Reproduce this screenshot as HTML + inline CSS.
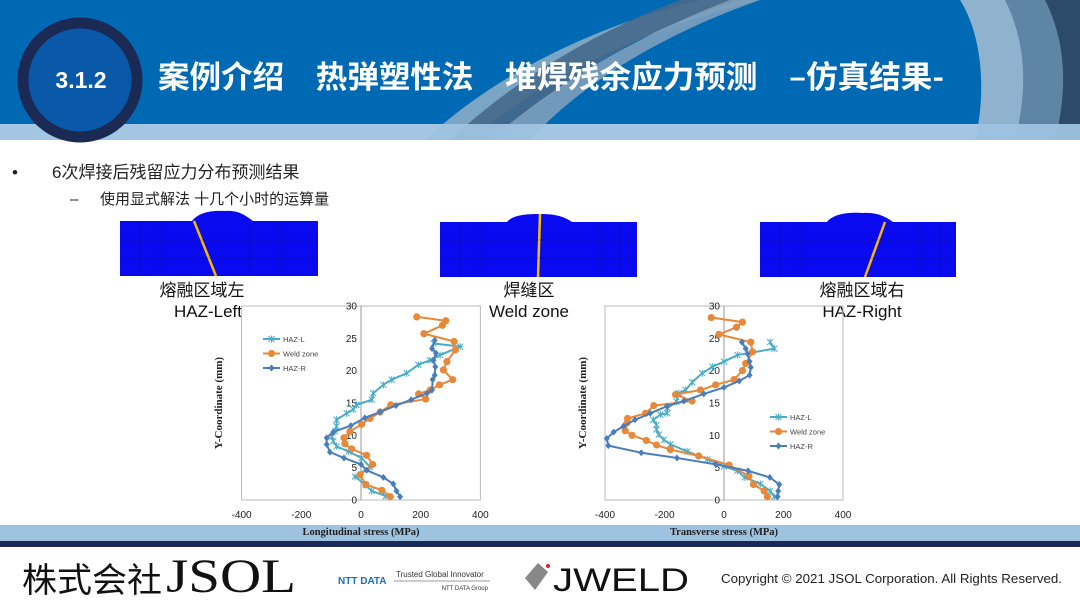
<!DOCTYPE html>
<html><head><meta charset="utf-8">
<style>
body{margin:0;width:1080px;height:608px;overflow:hidden;background:#fff;font-family:"Liberation Sans","Noto Sans CJK SC",sans-serif;}
svg{display:block}
</style></head><body>
<svg id="s" width="1080" height="608" xmlns="http://www.w3.org/2000/svg" font-family="Liberation Sans, Noto Sans CJK SC, sans-serif">
<rect x="0" y="0" width="1080" height="124" fill="#0069b4"/>
<path d="M425,140 C500,70 600,25 700,0 L760,0 C640,30 540,80 470,140Z" fill="#8fb0c8" opacity="0.85"/>
<path d="M450,140 C520,75 600,30 680,0 L740,0 C640,30 560,80 500,140Z" fill="#46698a" opacity="0.9"/>
<path d="M490,140 C560,80 640,35 730,0 L760,0 C660,35 580,85 530,140Z" fill="#7d9fbc" opacity="0.9"/>
<path d="M960,0 C985,40 985,100 975,140 L1080,140 L1080,0Z" fill="#8fb2cf"/>
<path d="M1005,0 C1030,50 1025,100 1015,140 L1080,140 L1080,0Z" fill="#5e84a6"/>
<path d="M1045,0 C1070,50 1065,100 1055,140 L1080,140 L1080,0Z" fill="#2c4a6a"/>
<rect x="0" y="124" width="1080" height="16" fill="#9ec3e1" opacity="0.95"/>
<circle cx="80" cy="80" r="57" fill="#0a58a8" stroke="#1b2a55" stroke-width="11"/>
<text x="81" y="88" fill="#fff" font-size="23" font-weight="bold" text-anchor="middle">3.1.2</text>
<text x="158" y="88" fill="#fff" font-size="31" font-weight="bold" font-family="Noto Sans CJK SC, sans-serif" textLength="786" lengthAdjust="spacingAndGlyphs">案例介绍　热弹塑性法　堆焊残余应力预测　–仿真结果-</text>
<text x="12" y="178" font-size="17" fill="#222">•</text>
<text x="52" y="178" font-size="17" fill="#222">6次焊接后残留应力分布预测结果</text>
<text x="70" y="204" font-size="15" fill="#222">–</text>
<text x="100" y="204" font-size="15" fill="#222">使用显式解法 十几个小时的运算量</text>
<path d="M120,221 L318,221 L318,276 L120,276Z" fill="#0a0af0"/>
<path d="M192,221 C198,213 210,210 225,211 C238,210 245,215 253,221Z" fill="#0a0af0"/>
<path d="M194,221 L216,276" stroke="#f4b800" stroke-width="2.5"/>
<path d="M440,222 L637,222 L637,277 L440,277Z" fill="#0a0af0"/>
<path d="M507,222 C513,215 525,214 540,214 C555,214 563,216 572,222Z" fill="#0a0af0"/>
<path d="M540,214 L538,277" stroke="#f4c000" stroke-width="2.5"/>
<path d="M760,222 L956,222 L956,277 L760,277Z" fill="#0a0af0"/>
<path d="M827,222 C833,214 848,212 862,213 C876,212 885,216 893,222Z" fill="#0a0af0"/>
<path d="M885,222 L865,277" stroke="#f4b800" stroke-width="2.5"/>
<g stroke="#000" stroke-width="0.4" opacity="0.5">
<path d="M140,221V276M160,221V276M250,221V276M280,221V276M120,240H318M120,258H318"/>
<path d="M460,222V277M480,222V277M600,222V277M620,222V277M440,240H637M440,258H637"/>
<path d="M780,222V277M800,222V277M920,222V277M940,222V277M760,240H956M760,258H956"/>
</g>
<g font-size="17" fill="#111" text-anchor="middle">
<text x="202" y="296">熔融区域左</text><text x="208" y="317">HAZ-Left</text>
<text x="529" y="296">焊缝区</text><text x="529" y="317">Weld zone</text>
<text x="862" y="296">熔融区域右</text><text x="862" y="317">HAZ-Right</text>
</g>
<rect x="0" y="525" width="1080" height="16" fill="#9ec3e1"/>
<rect x="0" y="541" width="1080" height="6" fill="#1b2a55"/>
<g id="charts" font-size="10" fill="#222"></g>
<text x="22" y="592" font-size="34" fill="#111" font-family="Noto Sans CJK SC, sans-serif" textLength="140" lengthAdjust="spacingAndGlyphs">株式会社</text>
<text x="166" y="592" font-size="48" fill="#111" font-family="Liberation Serif, serif" textLength="130" lengthAdjust="spacingAndGlyphs">JSOL</text>
<text x="338" y="584" font-size="10" fill="#1a6fc0" font-weight="bold">NTT DATA</text>
<text x="396" y="577" font-size="8" fill="#333">Trusted Global Innovator</text>
<line x1="394" y1="581" x2="490" y2="581" stroke="#333" stroke-width="0.6"/>
<text x="488" y="590" font-size="6" fill="#333" text-anchor="end">NTT DATA Group</text>
<path d="M525,578 L538,563 L548,572 L535,590Z" fill="#888"/>
<circle cx="548" cy="566" r="2" fill="#d22"/>
<text x="553" y="591" font-size="32" fill="#111" textLength="136" lengthAdjust="spacingAndGlyphs">JWELD</text>
<text x="721" y="583" font-size="12.5" fill="#222" textLength="341" lengthAdjust="spacingAndGlyphs">Copyright © 2021  JSOL Corporation. All Rights Reserved.</text>
</svg>
<script>
const g=document.getElementById('charts');let h='';
function chart(x0,s,axisT,series,ytx,legX,legY){
 const X=v=>x0+v*s, Y=y=>500-y*6.47;
 h+=`<rect x="${X(-400)}" y="306" width="${X(400)-X(-400)}" height="194" fill="none" stroke="#bbb" stroke-width="1"/>`;
 h+=`<line x1="${x0}" y1="306" x2="${x0}" y2="500" stroke="#999"/>`;
 for(let t=0;t<=30;t+=5){h+=`<text x="${x0-4}" y="${Y(t)+3.5}" text-anchor="end">${t}</text>`;}
 for(let t=-400;t<=400;t+=200){h+=`<text x="${X(t)}" y="518" text-anchor="middle">${t}</text>`;}
 h+=`<text x="${x0}" y="535" text-anchor="middle" font-family="Liberation Serif, serif" font-weight="bold" font-size="10.5">${axisT}</text>`;
 h+=`<text transform="translate(${ytx},403) rotate(-90)" text-anchor="middle" font-family="Liberation Serif, serif" font-weight="bold" font-size="11">Y-Coordinate (mm)</text>`;
 const cols=['#4bacc6','#e8883a','#4a7ebb'];const names=['HAZ-L','Weld zone','HAZ-R'];
 series.forEach((d,i)=>{
  const pts=[];for(let k=0;k<d.length;k+=2)pts.push([X(d[k]),Y(d[k+1])]);
  h+=`<polyline points="${pts.map(p=>p.join(',')).join(' ')}" fill="none" stroke="${cols[i]}" stroke-width="2"/>`;
  pts.forEach(p=>h+=mk(i,p[0],p[1],cols[i]));
  const ly=legY+i*14.5;
  h+=`<line x1="${legX}" y1="${ly}" x2="${legX+17}" y2="${ly}" stroke="${cols[i]}" stroke-width="2"/>`+mk(i,legX+8.5,ly,cols[i]);
  h+=`<text x="${legX+20}" y="${ly+3}" font-size="7.5" fill="#444">${names[i]}</text>`;
 });
}
function mk(i,x,y,c){
 if(i==0)return `<path d="M${x-3},${y-3}L${x+3},${y+3}M${x-3},${y+3}L${x+3},${y-3}M${x},${y-3.5}V${y+3.5}" stroke="${c}" stroke-width="1"/>`;
 if(i==1)return `<circle cx="${x}" cy="${y}" r="3.6" fill="${c}"/>`;
 return `<path d="M${x},${y-3.5}L${x+3},${y}L${x},${y+3.5}L${x-3},${y}Z" fill="${c}"/>`;
}
chart(361,0.2985,'Longitudinal stress (MPa)',[
[83,0.6,36,1.4,16,2.3,-20,3.6,30,5.1,2,6.5,-42,7.5,-82,8.3,-93,9.1,-98,9.8,-87,10.6,-82,11.4,-82,12.4,-48,13.4,-26,14,-15,14.7,36,15.5,41,16.5,75,17.8,103,18.6,153,19.6,192,20.9,231,21.6,265,22.4,332,23.7,243,24.2],
[98,0.5,70,1.5,16,2.4,-3,3.9,39,5.5,19,6.9,-31,7.9,-54,8.7,-57,9.6,-37,10.6,2,11.7,30,12.6,64,13.6,100,14.7,217,15.6,193,16.4,232,17,263,17.8,307,18.6,276,20.1,288,21.4,316,23.2,312,24.5,211,25.7,273,27,284,27.7,187,28.3],
[131,0.5,119,1.4,108,2.5,75,3.5,19,4.6,0,5.5,-57,6.5,-104,7.4,-115,8.6,-115,9.6,-93,10.5,-34,11.5,13,12.7,64,13.6,117,14.6,168,15.5,221,16.5,238,17,240,18.6,247,19.3,249,20.6,243,21.6,251,22.7,238,23.4,247,24.7]
],222,263,339);
chart(724,0.2975,'Transverse stress (MPa)',[
[169,0.5,155,1.4,122,2.5,70,3.5,45,4.5,0,5.2,-56,6.3,-124,7.5,-180,8.6,-202,9.3,-219,10.1,-227,10.9,-227,11.6,-238,12.4,-214,13.2,-191,13.4,-191,14.2,-160,15.2,-152,16.5,-129,17,-107,18.2,-73,19.6,-39,20.6,0,21.4,45,22.4,169,23.4,155,24.4],
[146,0.5,135,1.4,99,2.4,84,3.7,17,5.4,-85,6.8,-180,7.8,-227,8.5,-261,9.2,-309,10,-332,10.7,-326,11.9,-324,12.6,-264,13.4,-236,14.6,-107,15.3,-163,16.3,-79,17,-28,17.8,34,18.6,62,20,73,21.1,96,22.9,90,24.4,-17,25.6,42,26.7,62,27.5,-43,28.2],
[180,0.5,182,1.4,186,2.4,154,3.5,81,4.5,-28,5.5,-158,6.5,-278,7.3,-389,8.4,-394,9.5,-371,10.5,-338,11.4,-299,12.4,-248,13.4,-191,14.5,-135,15.3,-68,16.4,0,17.4,51,18.4,86,19.3,90,20.5,86,21.4,79,22.6,73,23.4,60,24.4]
],586,770,417);
g.innerHTML=h;
</script>
</body></html>
